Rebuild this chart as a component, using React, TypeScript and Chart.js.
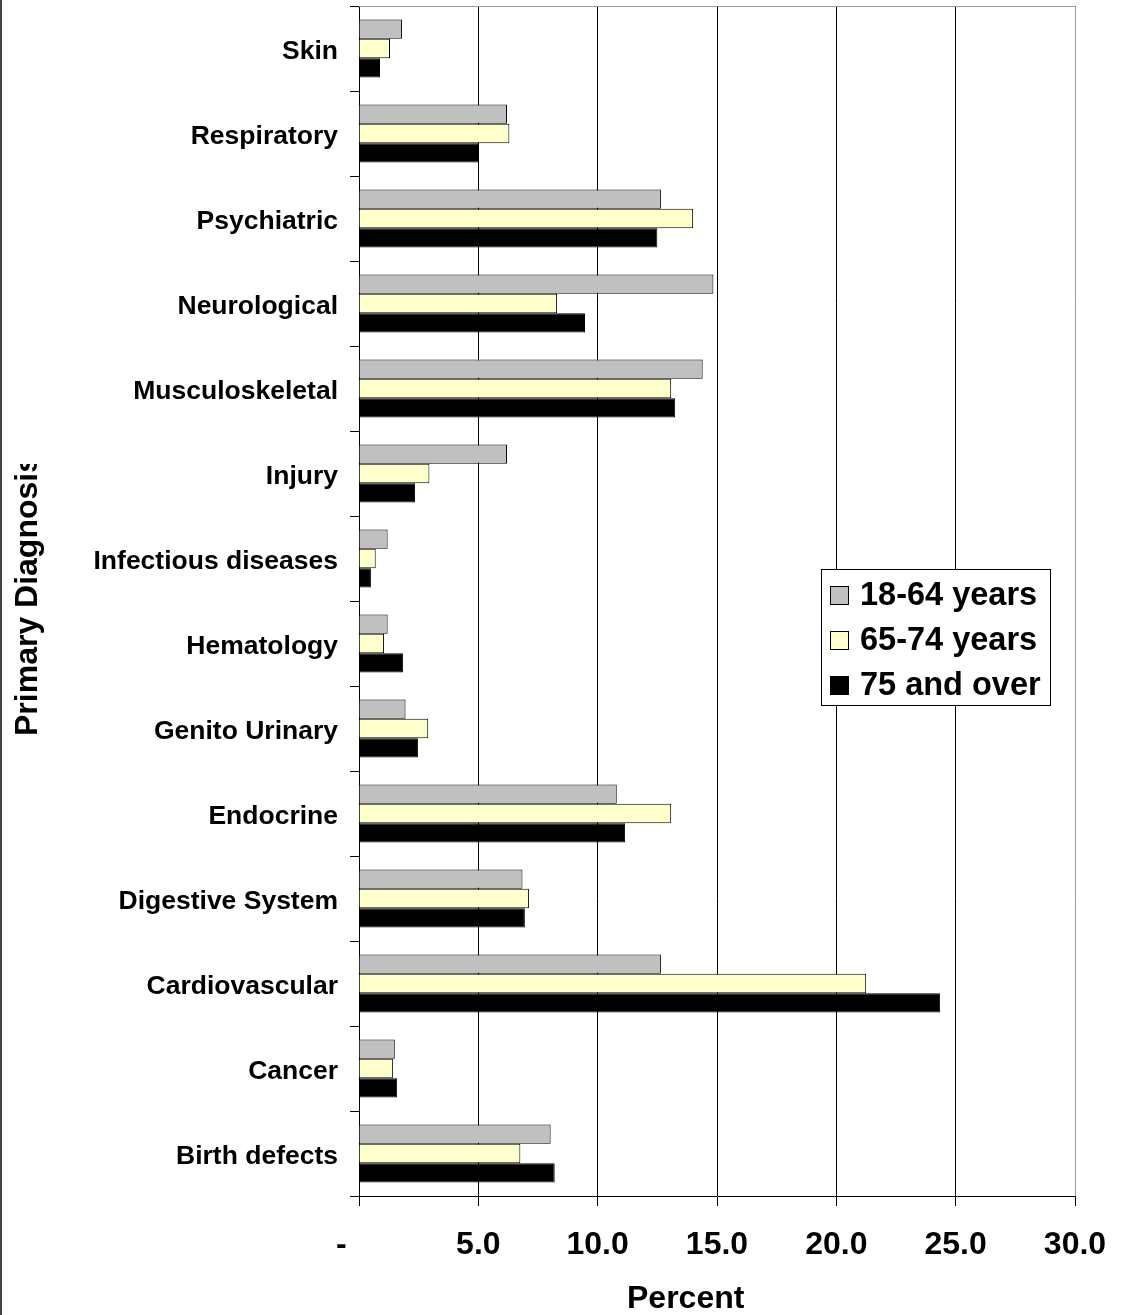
import React, { useEffect, useRef } from 'react';
import { Chart, registerables } from 'chart.js';

Chart.register(...registerables);

const categories = [
  'Skin',
  'Respiratory',
  'Psychiatric',
  'Neurological',
  'Musculoskeletal',
  'Injury',
  'Infectious diseases',
  'Hematology',
  'Genito Urinary',
  'Endocrine',
  'Digestive System',
  'Cardiovascular',
  'Cancer',
  'Birth defects',
];
const ages18to64 = [1.8, 6.2, 12.65, 14.85, 14.4, 6.2, 1.2, 1.2, 1.95, 10.8, 6.85, 12.65, 1.5, 8.03];
const ages65to74 = [1.3, 6.3, 14.0, 8.3, 13.08, 2.95, 0.7, 1.05, 2.9, 13.08, 7.12, 21.25, 1.42, 6.76];
const ages75plus = [0.88, 5.03, 12.5, 9.47, 13.25, 2.35, 0.5, 1.85, 2.47, 11.15, 6.95, 24.35, 1.6, 8.2];
const seriesLabels = ['18-64 years', '65-74 years', '75 and over'];
const seriesColors = ['#C0C0C0', '#FFFFCC', '#000000'];
const xMin = 0;
const xMax = 30;
const xStep = 5;
const xTitle = 'Percent';
const yTitle = 'Primary Diagnosis';

const FONT = '"Liberation Sans", Arial, sans-serif';

const decorPlugin = {
  id: 'decor',
  afterDraw(chart: any) {
    const ctx = chart.ctx as CanvasRenderingContext2D;
    const area = chart.chartArea;
    ctx.save();
    // outer left frame line
    ctx.fillStyle = '#404040';
    ctx.fillRect(0, 0, 2, chart.height);
    // plot area top border (gray)
    ctx.strokeStyle = '#999999';
    ctx.lineWidth = 1;
    ctx.beginPath();
    ctx.moveTo(Math.round(area.left), Math.round(area.top) + 0.5);
    ctx.lineTo(Math.round(area.right) + 1, Math.round(area.top) + 0.5);
    ctx.stroke();

    // x title
    ctx.fillStyle = '#000';
    ctx.font = `bold 32px ${FONT}`;
    ctx.textAlign = 'left';
    ctx.textBaseline = 'alphabetic';
    ctx.fillText(xTitle, 627, 1308);

    // y title (clipped like the original)
    ctx.save();
    ctx.beginPath();
    ctx.rect(0, 464, 120, 400);
    ctx.clip();
    ctx.translate(36.5, 736);
    ctx.rotate(-Math.PI / 2);
    ctx.font = `bold 32px ${FONT}`;
    ctx.textAlign = 'left';
    ctx.textBaseline = 'alphabetic';
    ctx.fillText(yTitle, 0, 0);
    ctx.restore();

    // legend
    const lx = 821, ly = 569, lw = 229, lh = 136;
    ctx.fillStyle = '#ffffff';
    ctx.fillRect(lx, ly, lw, lh);
    ctx.strokeStyle = '#000';
    ctx.lineWidth = 1;
    ctx.strokeRect(lx + 0.5, ly + 0.5, lw, lh);
    chart.data.datasets.forEach((ds: any, i: number) => {
      const cy = 595 + i * 45;
      ctx.fillStyle = ds.backgroundColor;
      ctx.fillRect(830, cy - 9, 19, 19);
      ctx.strokeStyle = '#000';
      ctx.strokeRect(830.5, cy - 8.5, 18, 18);
      ctx.fillStyle = '#000';
      ctx.font = `bold 32.5px ${FONT}`;
      ctx.textAlign = 'left';
      ctx.textBaseline = 'middle';
      ctx.fillText(ds.label, 860, cy + 1);
    });
    ctx.restore();
  },
};

export default function App() {
  const canvasRef = useRef<HTMLCanvasElement | null>(null);

  useEffect(() => {
    const canvas = canvasRef.current;
    if (!canvas) return;
    const chart = new Chart(canvas, {
      type: 'bar',
      data: {
        labels: categories,
        datasets: [
          { label: seriesLabels[0], data: ages18to64, backgroundColor: seriesColors[0], borderColor: '#000', borderWidth: 1 },
          { label: seriesLabels[1], data: ages65to74, backgroundColor: seriesColors[1], borderColor: '#000', borderWidth: 1 },
          { label: seriesLabels[2], data: ages75plus, backgroundColor: seriesColors[2], borderColor: '#000', borderWidth: 1 },
        ],
      },
      options: {
        indexAxis: 'y',
        responsive: false,
        animation: false,
        devicePixelRatio: 1,
        layout: { padding: { top: 6, right: 48, bottom: 0, left: 0 } },
        datasets: { bar: { categoryPercentage: 0.68, barPercentage: 1 } },
        plugins: {
          legend: { display: false },
          tooltip: { enabled: false },
          title: { display: false },
        },
        scales: {
          x: {
            type: 'linear',
            min: xMin,
            max: xMax,
            afterFit(scale: any) {
              scale.height = 119;
              scale.paddingLeft = 0;
              scale.paddingRight = 0;
            },
            ticks: {
              stepSize: xStep,
              color: '#000',
              font: { family: FONT, size: 32, weight: 'bold' },
              padding: 20,
              maxRotation: 0,
              autoSkip: false,
              callback: (v: any) => (Number(v) === 0 ? '-    ' : Number(v).toFixed(1)),
            },
            grid: {
              color: (c: any) => (c.tick && c.tick.value === xMax ? '#999999' : '#000000'),
              tickColor: '#000',
              tickLength: 10,
              lineWidth: 1,
            },
            border: { display: true, color: '#000', width: 1 },
          },
          y: {
            type: 'category',
            afterFit(scale: any) {
              scale.width = 359;
              scale.paddingTop = 0;
              scale.paddingBottom = 0;
            },
            ticks: {
              color: '#000',
              font: { family: FONT, size: 26.5, weight: 'bold' },
              padding: 12,
              labelOffset: 3,
              autoSkip: false,
            },
            grid: {
              drawOnChartArea: false,
              tickColor: '#000',
              tickLength: 9,
              offset: true,
            },
            border: { display: true, color: '#000', width: 1 },
          },
        },
      },
      plugins: [decorPlugin],
    } as any);
    return () => chart.destroy();
  }, []);

  return (
    <div style={{ position: 'absolute', left: 0, top: 0, width: 1123, height: 1315, background: '#fff' }}>
      <canvas ref={canvasRef} width={1123} height={1315} style={{ display: 'block', width: 1123, height: 1315 }} />
    </div>
  );
}
